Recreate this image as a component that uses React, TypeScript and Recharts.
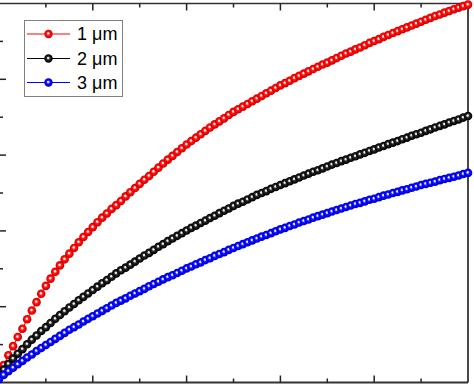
import React from "react";
import { LineChart, Line, XAxis, YAxis, Legend } from "recharts";

const xValues = [
  0, 0.1, 0.2, 0.3, 0.4, 0.5, 0.6, 0.7, 0.8, 0.9,
  1, 1.1, 1.2, 1.3, 1.4, 1.5, 1.6, 1.7, 1.8, 1.9,
  2, 2.1, 2.2, 2.3, 2.4, 2.5, 2.6, 2.7, 2.8, 2.9,
  3, 3.1, 3.2, 3.3, 3.4, 3.5, 3.6, 3.7, 3.8, 3.9,
  4, 4.1, 4.2, 4.3, 4.4, 4.5, 4.6, 4.7, 4.8, 4.9,
  5, 5.1, 5.2, 5.3, 5.4, 5.5, 5.6, 5.7, 5.8, 5.9,
  6, 6.1, 6.2, 6.3, 6.4, 6.5, 6.6, 6.7, 6.8, 6.9,
  7, 7.1, 7.2, 7.3, 7.4, 7.5, 7.6, 7.7, 7.8, 7.9,
  8, 8.1, 8.2, 8.3, 8.4, 8.5, 8.6, 8.7, 8.8, 8.9,
  9, 9.1, 9.2, 9.3, 9.4, 9.5, 9.6, 9.7, 9.8, 9.9,
  10,
];

const red1um = [
  0.20, 0.46, 0.72, 0.96, 1.20, 1.42, 1.67, 1.90, 2.12, 2.34,
  2.55, 2.74, 2.92, 3.09, 3.25, 3.40, 3.55, 3.70, 3.84, 3.97,
  4.10, 4.23, 4.35, 4.46, 4.58, 4.68, 4.79, 4.91, 5.02, 5.13,
  5.24, 5.35, 5.45, 5.56, 5.67, 5.78, 5.88, 5.98, 6.08, 6.18,
  6.28, 6.37, 6.46, 6.55, 6.64, 6.73, 6.81, 6.89, 6.97, 7.06,
  7.14, 7.21, 7.28, 7.35, 7.42, 7.49, 7.56, 7.63, 7.70, 7.77,
  7.84, 7.90, 7.96, 8.03, 8.09, 8.15, 8.21, 8.27, 8.33, 8.39,
  8.44, 8.50, 8.56, 8.62, 8.68, 8.73, 8.79, 8.84, 8.90, 8.96,
  9.01, 9.06, 9.12, 9.17, 9.22, 9.27, 9.32, 9.37, 9.42, 9.47,
  9.52, 9.57, 9.62, 9.67, 9.71, 9.76, 9.80, 9.85, 9.89, 9.93,
  9.97,
];

const black2um = [
  0.17, 0.34, 0.49, 0.63, 0.76, 0.88, 1.01, 1.13, 1.24, 1.36,
  1.46, 1.57, 1.68, 1.78, 1.88, 1.98, 2.07, 2.17, 2.26, 2.35,
  2.44, 2.53, 2.62, 2.70, 2.79, 2.88, 2.96, 3.03, 3.11, 3.19,
  3.27, 3.35, 3.42, 3.50, 3.58, 3.65, 3.73, 3.80, 3.87, 3.94,
  4.01, 4.08, 4.14, 4.21, 4.27, 4.34, 4.40, 4.47, 4.53, 4.59,
  4.66, 4.72, 4.77, 4.83, 4.89, 4.95, 5.00, 5.05, 5.11, 5.16,
  5.21, 5.26, 5.31, 5.36, 5.41, 5.46, 5.51, 5.56, 5.60, 5.65,
  5.70, 5.75, 5.79, 5.84, 5.88, 5.93, 5.97, 6.02, 6.06, 6.11,
  6.15, 6.20, 6.24, 6.29, 6.33, 6.37, 6.42, 6.46, 6.51, 6.55,
  6.59, 6.64, 6.68, 6.73, 6.77, 6.81, 6.86, 6.90, 6.94, 6.99,
  7.03,
];

const blue3um = [
  0.09, 0.20, 0.30, 0.39, 0.48, 0.57, 0.66, 0.74, 0.83, 0.91,
  0.99, 1.07, 1.15, 1.23, 1.31, 1.39, 1.46, 1.53, 1.61, 1.68,
  1.75, 1.82, 1.89, 1.96, 2.03, 2.10, 2.16, 2.22, 2.29, 2.35,
  2.41, 2.47, 2.54, 2.60, 2.66, 2.72, 2.78, 2.83, 2.89, 2.95,
  3.01, 3.06, 3.12, 3.17, 3.23, 3.28, 3.34, 3.39, 3.44, 3.50,
  3.55, 3.60, 3.65, 3.70, 3.75, 3.80, 3.85, 3.89, 3.94, 3.99,
  4.04, 4.08, 4.13, 4.17, 4.22, 4.26, 4.30, 4.35, 4.39, 4.43,
  4.47, 4.51, 4.55, 4.59, 4.63, 4.67, 4.71, 4.74, 4.78, 4.82,
  4.85, 4.89, 4.93, 4.96, 5.00, 5.03, 5.07, 5.10, 5.14, 5.17,
  5.21, 5.24, 5.27, 5.30, 5.34, 5.37, 5.40, 5.43, 5.46, 5.50,
  5.53,
];

const seriesNames = ["1 μm", "2 μm", "3 μm"];
const xTicks = [0, 1, 2, 3, 4, 5, 6, 7, 8, 9, 10];
const yTicks = [0, 1, 2, 3, 4, 5, 6, 7, 8, 9, 10];

const data = xValues.map((x, i) => ({
  x,
  s1: red1um[i],
  s2: black2um[i],
  s3: blue3um[i],
}));

const series = [
  { key: "s1", name: seriesNames[0], color: "#ff0000", grad: "gRed" },
  { key: "s2", name: seriesNames[1], color: "#000000", grad: "gBlack" },
  { key: "s3", name: seriesNames[2], color: "#0000ff", grad: "gBlue" },
];

const TICK_COLOR = "#222";
const MAJOR = 7;
const MINOR = 4;

const tickLen = (v: number) => (v % 2 === 0 ? MAJOR : MINOR);
const isEdge = (v: number) => v === 0 || v === 10;

const BottomTick = (p: any) => {
  const v = p.payload.value;
  if (isEdge(v)) return <g />;
  return <line x1={p.x} x2={p.x} y1={p.y} y2={p.y - tickLen(v)} stroke={TICK_COLOR} strokeWidth={1.5} />;
};
const TopTick = (p: any) => {
  const v = p.payload.value;
  if (isEdge(v)) return <g />;
  return <line x1={p.x} x2={p.x} y1={p.y} y2={p.y + tickLen(v)} stroke={TICK_COLOR} strokeWidth={1.5} />;
};
const LeftTick = (p: any) => {
  const v = p.payload.value;
  if (isEdge(v)) return <g />;
  return <line x1={p.x} x2={p.x + tickLen(v)} y1={p.y} y2={p.y} stroke={TICK_COLOR} strokeWidth={1.5} />;
};
const RightTick = (p: any) => {
  const v = p.payload.value;
  if (isEdge(v)) return <g />;
  return <line x1={p.x} x2={p.x - tickLen(v)} y1={p.y} y2={p.y} stroke={TICK_COLOR} strokeWidth={1.5} />;
};

const GradDefs = ({ prefix }: { prefix: string }) => (
  <defs>
    <radialGradient id={prefix + "gRed"} cx="50%" cy="50%" r="50%" fx="45%" fy="42%">
      <stop offset="0%" stopColor="#ffffff" />
      <stop offset="18%" stopColor="#ffe0e0" />
      <stop offset="40%" stopColor="#ff2020" />
      <stop offset="70%" stopColor="#ff0000" />
      <stop offset="100%" stopColor="#c00000" />
    </radialGradient>
    <radialGradient id={prefix + "gBlack"} cx="50%" cy="50%" r="50%" fx="45%" fy="42%">
      <stop offset="0%" stopColor="#ffffff" />
      <stop offset="18%" stopColor="#e0e0e0" />
      <stop offset="40%" stopColor="#303030" />
      <stop offset="70%" stopColor="#101010" />
      <stop offset="100%" stopColor="#000000" />
    </radialGradient>
    <radialGradient id={prefix + "gBlue"} cx="50%" cy="50%" r="50%" fx="45%" fy="42%">
      <stop offset="0%" stopColor="#ffffff" />
      <stop offset="18%" stopColor="#e0e0ff" />
      <stop offset="40%" stopColor="#2020ff" />
      <stop offset="70%" stopColor="#0000ff" />
      <stop offset="100%" stopColor="#0000c0" />
    </radialGradient>
  </defs>
);

const makeDot = (grad: string, keyPrefix: string) => (p: any) => {
  const { cx, cy, index } = p;
  if (cx == null || cy == null) return <g key={keyPrefix + index} />;
  return <circle key={keyPrefix + index} cx={cx} cy={cy} r={4.3} fill={`url(#${grad})`} />;
};

const LegendBox = () => {
  const rows = [14, 38.5, 62.5];
  return (
    <svg width={100} height={78} style={{ display: "block" }}>
      <GradDefs prefix="L" />
      <rect x={0.5} y={0.5} width={98} height={76} fill="#ffffff" stroke="#808080" strokeWidth={1} />
      {series.map((s, i) => (
        <g key={s.key}>
          <line x1={3} x2={46} y1={rows[i]} y2={rows[i]} stroke={s.color} strokeWidth={1} />
          <circle cx={24.5} cy={rows[i]} r={4.2} fill={`url(#L${s.grad})`} />
          <text
            x={53}
            y={rows[i] + 6.3}
            fontSize={18}
            fontFamily="'Liberation Sans', Arial, sans-serif"
            fill="#000"
          >
            {s.name}
          </text>
        </g>
      ))}
    </svg>
  );
};

export default function App() {
  return (
    <div style={{ position: "absolute", left: -2, top: 0 }}>
      <LineChart
        width={476}
        height={384}
        data={data}
        margin={{ top: 2.5, right: 5, bottom: 0.5, left: 0 }}
      >
        <GradDefs prefix="" />
        <XAxis
          xAxisId="bottom"
          dataKey="x"
          type="number"
          domain={[0, 10]}
          ticks={xTicks}
          orientation="bottom"
          height={1}
          tickSize={0}
          tickMargin={0}
          tickLine={false}
          tick={BottomTick}
          axisLine={{ stroke: "#333", strokeWidth: 1.8 }}
          interval={0}
        />
        <XAxis
          xAxisId="top"
          dataKey="x"
          type="number"
          domain={[0, 10]}
          ticks={xTicks}
          orientation="top"
          height={1}
          tickSize={0}
          tickMargin={0}
          tickLine={false}
          tick={TopTick}
          axisLine={{ stroke: "#333", strokeWidth: 1.5 }}
          interval={0}
        />
        <YAxis
          yAxisId="left"
          type="number"
          domain={[0, 10]}
          ticks={yTicks}
          orientation="left"
          width={1}
          tickSize={0}
          tickMargin={0}
          tickLine={false}
          tick={LeftTick}
          axisLine={{ stroke: "#333", strokeWidth: 1.5 }}
          interval={0}
        />
        <YAxis
          yAxisId="right"
          type="number"
          domain={[0, 10]}
          ticks={yTicks}
          orientation="right"
          width={1}
          tickSize={0}
          tickMargin={0}
          tickLine={false}
          tick={RightTick}
          axisLine={{ stroke: "#333", strokeWidth: 1.8 }}
          interval={0}
        />
        {series.map((s) => (
          <Line
            key={s.key}
            xAxisId="bottom"
            yAxisId="left"
            dataKey={s.key}
            name={s.name}
            type="linear"
            stroke={s.color}
            strokeWidth={1}
            dot={makeDot(s.grad, s.key + "-")}
            activeDot={false}
            isAnimationActive={false}
          />
        ))}
        <Legend
          layout="vertical"
          align="center"
          verticalAlign="middle"
          content={() => <LegendBox />}
          wrapperStyle={{ position: "absolute", left: 26, top: 20, width: 100, height: 78 }}
        />
      </LineChart>
    </div>
  );
}
